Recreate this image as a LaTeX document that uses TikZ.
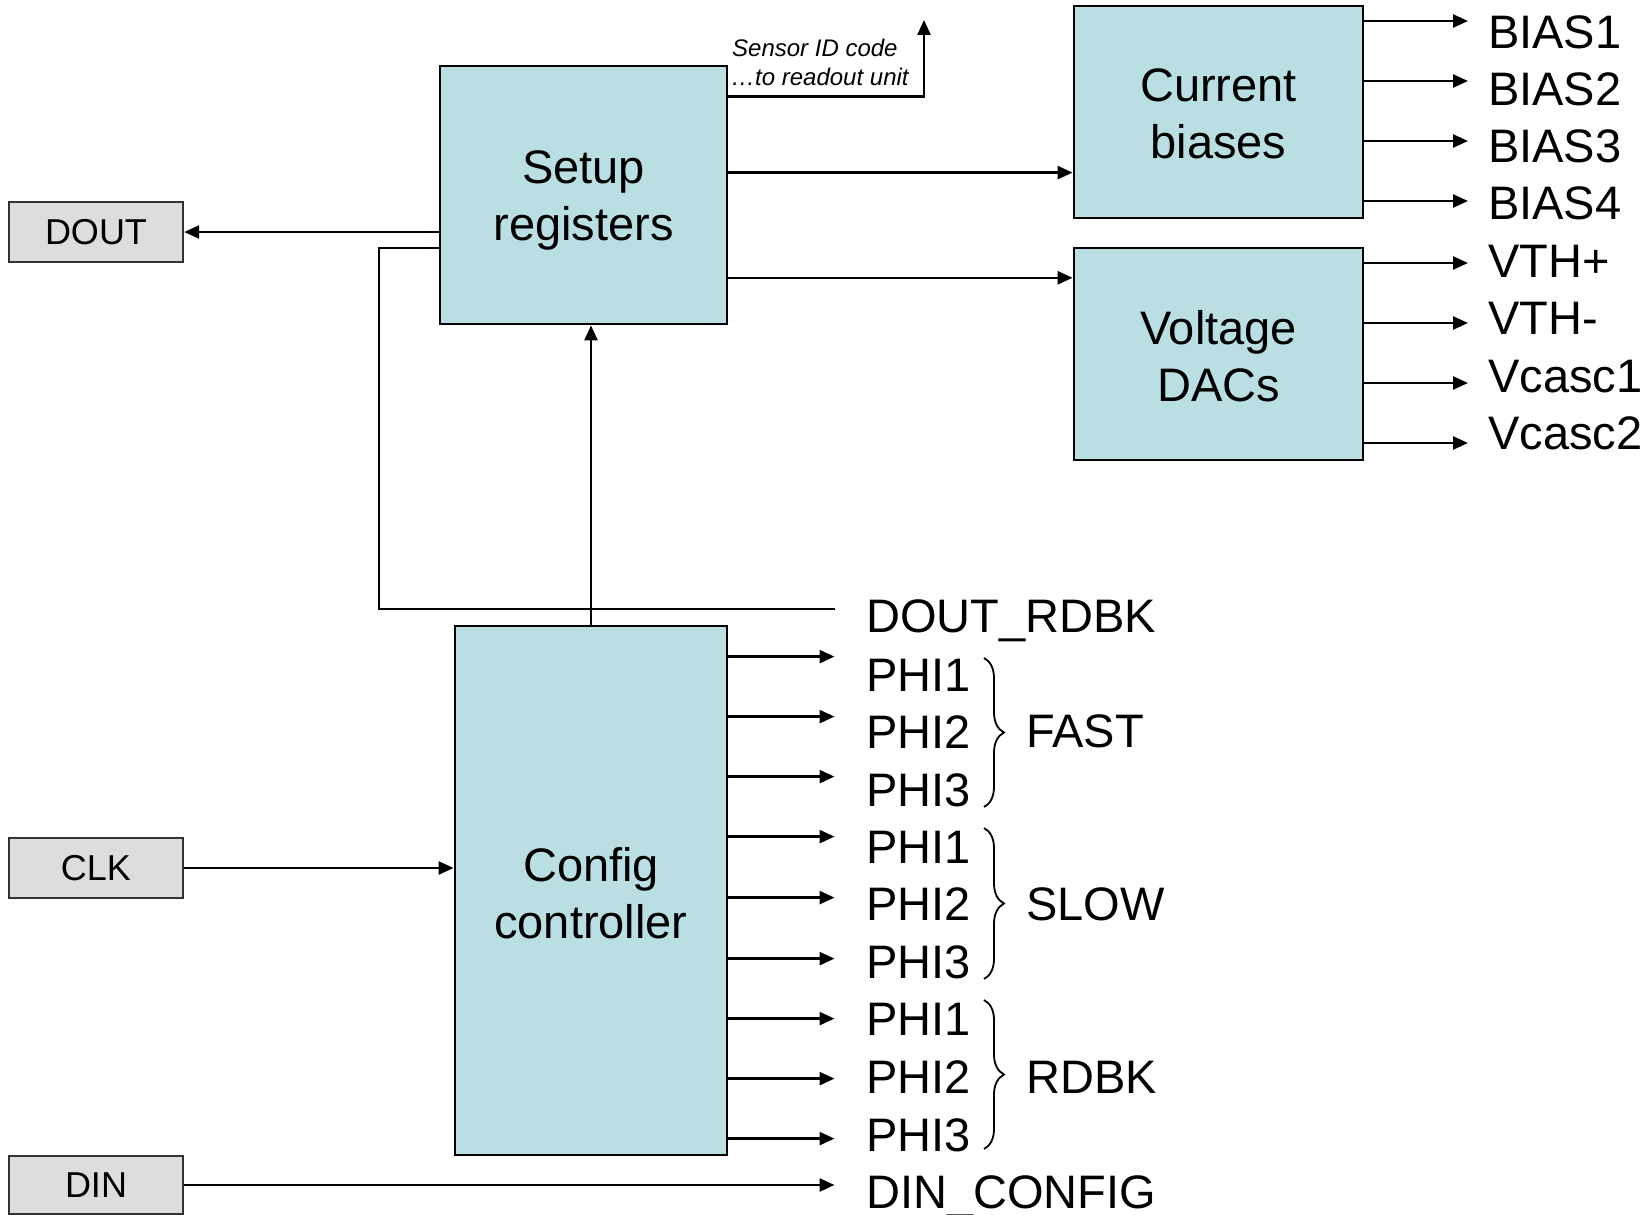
\documentclass[tikz,border=0pt]{standalone}
\usepackage{fontspec}
\setmainfont{Liberation Sans}
\usetikzlibrary{arrows.meta,decorations.pathreplacing}
\definecolor{boxfill}{HTML}{B9DFE3}
\definecolor{pinfill}{HTML}{DDDDDD}
\begin{document}
\begin{tikzpicture}[x=1pt,y=-1pt,
  blk/.style={draw=black,line width=2.8pt,fill=boxfill,align=center,inner sep=0pt,font=\fontsize{47}{57}\selectfont},
  blktxt/.style={align=center,inner sep=0pt,font=\fontsize{47}{57}\selectfont},
  pin/.style={draw=black!80,line width=2.4pt,fill=pinfill,inner sep=0pt,minimum width=174pt,font=\fontsize{36}{40}\selectfont},
  arr/.style={line width=2.6pt,-{Triangle[length=15pt,width=13pt]}},
  wire/.style={line width=2.6pt},
  lbl/.style={anchor=base west,inner sep=0pt,font=\fontsize{47}{57}\selectfont},
  brc/.style={decorate,decoration={brace,amplitude=20pt},line width=1.8pt}]
\useasboundingbox[fill=white] (0,0) rectangle (1650,1215);

% blocks
\node[blk,minimum width=287pt,minimum height=258pt] (setup) at (583.5,195) {};
\node[blktxt] (setuptxt) at (583.5,200) {Setup\\registers};
\node[blk,minimum width=289pt,minimum height=212pt] (cur) at (1218.5,112) {};
\node[blktxt] (curtxt) at (1218.5,114) {Current\\biases};
\node[blk,minimum width=289pt,minimum height=212pt] (dac) at (1218.5,354) {};
\node[blktxt] (dactxt) at (1218.5,356) {Voltage\\DACs};
\node[blk,minimum width=272pt,minimum height=529pt] (cfg) at (591,890.5) {};
\node[blktxt] (cfgtxt) at (591,893) {Config\\controller};

% pins
\node[pin,minimum height=60pt] (dout) at (96,232) {DOUT};
\node[pin,minimum height=60pt] (clk) at (96,868) {CLK};
\node[pin,minimum height=58pt] (din) at (96,1185) {DIN};

% sensor id
\node[anchor=base west,inner sep=0pt,font=\fontsize{24}{28}\selectfont\itshape] (sidA) at (732,57) {Sensor ID code};
\node[anchor=base west,inner sep=0pt,font=\fontsize{24}{28}\selectfont\itshape] (sidB) at (731,85.4) {\dots to readout unit};
\coordinate (sidy) at (0,96.8);
\coordinate (sidc) at (924,96.8);
\coordinate (sidtop) at (924,20);
\draw[arr] (setup.east |- sidy) -- (sidc) -- (sidtop);

% setup outputs
\coordinate (ycur) at (0,172.6);
\coordinate (ydac) at (0,277.8);
\draw[arr] (setup.east |- ycur) -- (cur.west |- ycur);
\draw[arr] (setup.east |- ydac) -- (dac.west |- ydac);

% DOUT
\draw[arr] (setup.west |- dout) -- (dout.east);

% readback loop
\coordinate (rbA) at (379,248);
\coordinate (rbB) at (379,609);
\coordinate (rbC) at (834.5,609);
\draw[wire] (setup.west |- rbA) -- (rbA) -- (rbB) -- (rbC);
\node[lbl] (doutrdbk) at (866,632.4) {DOUT\_RDBK};

% config to setup
\draw[arr] (cfg.north) -- (cfg.north |- setup.south);

% CLK, DIN
\draw[arr] (clk.east) -- (cfg.west |- clk);
\coordinate (dinend) at (834.5,1185);
\draw[arr] (din.east) -- (dinend);
\node[lbl] (dinconfig) at (866,1208) {DIN\_CONFIG};

% bias outputs
\foreach \y/\n in {21/b1,81/b2,141/b3,201/b4,263/v1,323/v2,383/v3,443/v4}{
  \coordinate (\n) at (1468,\y);
}
\foreach \n in {b1,b2,b3,b4}{\draw[arr] (cur.east |- \n) -- (\n);}
\foreach \n in {v1,v2,v3,v4}{\draw[arr] (dac.east |- \n) -- (\n);}
\node[lbl] (lb1) at (1488,48.4) {BIAS1};
\node[lbl] (lb2) at (1488,105.2) {BIAS2};
\node[lbl] (lb3) at (1488,162) {BIAS3};
\node[lbl] (lb4) at (1488,219.9) {BIAS4};
\node[lbl] (lv1) at (1488,277.8) {VTH+};
\node[lbl] (lv2) at (1488,334.6) {VTH-};
\node[lbl] (lv3) at (1488,392.5) {Vcasc1};
\node[lbl] (lv4) at (1488,449.3) {Vcasc2};

% phase outputs
\foreach \y/\n in {656.6/p1,716.6/p2,776.6/p3,836.6/p4,897.6/p5,958.6/p6,1018.6/p7,1078.6/p8,1138.6/p9}{
  \coordinate (\n) at (834.5,\y);
  \draw[arr] (cfg.east |- \n) -- (\n);
}
\foreach \y/\t/\n in {691.3/PHI1/q1,748.1/PHI2/q2,806/PHI3/q3,863.9/PHI1/q4,920.7/PHI2/q5,978.6/PHI3/q6,1035.4/PHI1/q7,1093.3/PHI2/q8,1151.2/PHI3/q9}{
  \node[lbl] (\n) at (866,\y) {\t};
}

% braces
\draw[brc] (984,658) -- (984,807);
\draw[brc] (984,828) -- (984,979);
\draw[brc] (984,1000) -- (984,1149);
\node[lbl] (fast) at (1026,747.8) {FAST};
\node[lbl] (slow) at (1026,920.8) {SLOW};
\node[lbl] (rdbk) at (1026,1093.3) {RDBK};
\end{tikzpicture}
\end{document}
